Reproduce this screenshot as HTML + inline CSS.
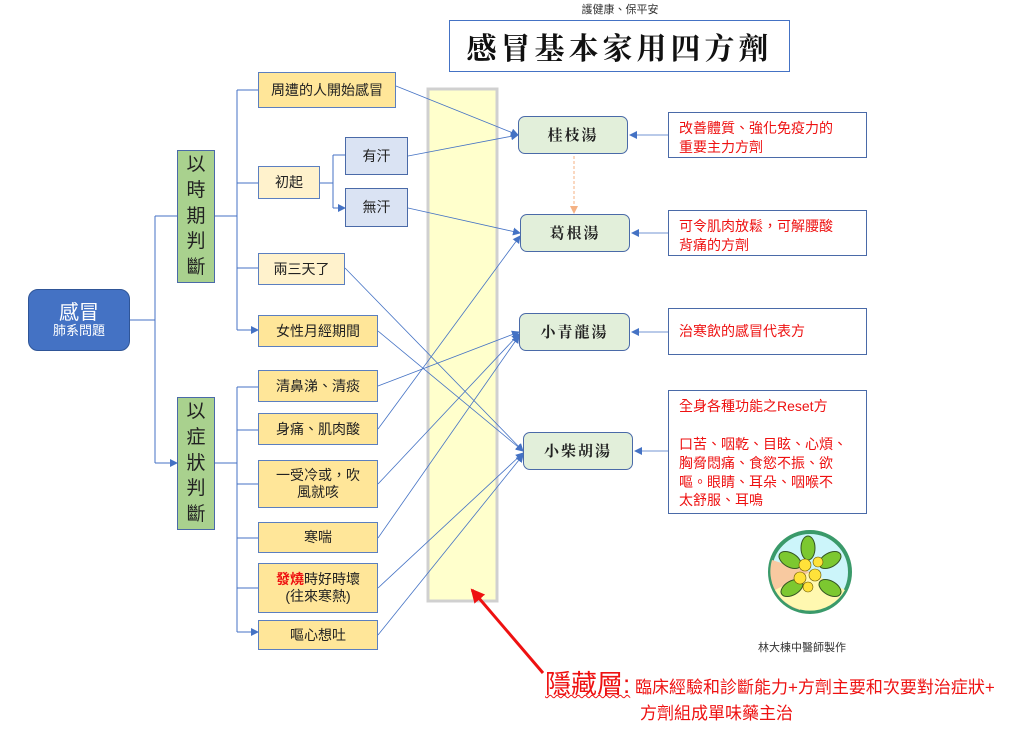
<!DOCTYPE html><html><head><meta charset="utf-8"><style>
body{margin:0;width:1023px;height:733px;background:#fff;position:relative;overflow:hidden;font-family:"Liberation Sans","Noto Sans CJK TC",sans-serif;}
.b{position:absolute;box-sizing:border-box;display:flex;align-items:center;justify-content:center;text-align:center;font-size:14px;color:#222;line-height:1.2}
.y{background:#ffe699;border:1.5px solid #5b7fc0}
.ly{background:#fff2cc;border:1.5px solid #5b7fc0}
.bl{background:#dae3f3;border:1.5px solid #4a6aa8}
.g{background:#a9d18e;border:1.5px solid #4a6aa8;font-size:19px;line-height:1.35;color:#222}
.f{background:#e2efda;border:1.5px solid #4a6aa8;border-radius:7px;font-family:"Noto Serif CJK SC",serif;font-weight:bold;font-size:15px;letter-spacing:2px}
.n{background:#fff;border:1.5px solid #4a6aa8;color:#ee1111;font-size:14px;justify-content:flex-start;align-items:flex-start;text-align:left;padding:6px 10px;line-height:1.35;white-space:nowrap}
</style></head><body>
<svg width="1023" height="733" style="position:absolute;left:0;top:0">
<defs><marker id="a" markerWidth="8" markerHeight="8" refX="7" refY="4" orient="auto" markerUnits="userSpaceOnUse"><path d="M0,0L8,4L0,8z" fill="#4472c4"/></marker>
<marker id="o" markerWidth="8" markerHeight="8" refX="7" refY="4" orient="auto" markerUnits="userSpaceOnUse"><path d="M0,0L8,4L0,8z" fill="#f4b183"/></marker>
<marker id="r" markerWidth="14" markerHeight="14" refX="12" refY="7" orient="auto" markerUnits="userSpaceOnUse"><path d="M0,0L14,7L0,14z" fill="#ee1111"/></marker></defs>
<g stroke="#4472c4" stroke-width="1" fill="none">
<path d="M130,320H155M155,216V463"/><path d="M155,216H177M155,463H177" marker-end="url(#a)"/>
<path d="M215,216H237M237,90V330"/>
<path d="M237,90H258M237,183H258M237,268H258M237,330H258" marker-end="url(#a)"/>
<path d="M320,183H333M333,155V208"/><path d="M333,155H345M333,208H345" marker-end="url(#a)"/>
<path d="M215,463H237M237,387V632"/>
<path d="M237,387H258M237,430H258M237,484H258M237,538H258M237,588H258M237,632H258" marker-end="url(#a)"/>
</g>
<rect x="428" y="89" width="69" height="512" fill="#ffffcc" stroke="#d0d0d0" stroke-width="3"/>
<g stroke="#4472c4" stroke-width="0.8" fill="none" marker-end="url(#a)">
<path d="M396,86L518,135"/><path d="M408,156L518,135"/><path d="M408,208L520,233"/>
<path d="M345,268L523,451"/><path d="M378,331L523,451"/><path d="M378,386L519,332"/>
<path d="M378,429L520,236"/><path d="M378,484L519,334"/><path d="M378,538L519,336"/>
<path d="M378,588L523,453"/><path d="M378,635L523,455"/>
<path d="M668,135H630"/><path d="M668,233H632"/><path d="M668,332H632"/><path d="M668,451H635"/>
</g>
<path d="M574,156V213" stroke="#f4b183" stroke-dasharray="3,2" marker-end="url(#o)"/>
<path d="M543,673L472,590" stroke="#ee1111" stroke-width="3" marker-end="url(#r)"/>
<circle cx="810" cy="572" r="40" fill="#ccf5fa" stroke="#3a9a6a" stroke-width="4"/>
<path d="M772,560A40,40 0 0 0 800,610L810,572z" fill="#f8c9a0"/>
<path d="M775,590A40,40 0 0 0 845,590L810,572z" fill="#fff8b0"/>
<g fill="#7cc830" stroke="#335522" stroke-width="1"><ellipse cx="790" cy="560" rx="12" ry="7" transform="rotate(30 790 560)"/><ellipse cx="830" cy="560" rx="12" ry="7" transform="rotate(-30 830 560)"/><ellipse cx="792" cy="588" rx="12" ry="7" transform="rotate(-30 792 588)"/><ellipse cx="830" cy="588" rx="12" ry="7" transform="rotate(30 830 588)"/><ellipse cx="808" cy="548" rx="7" ry="12"/></g>
<g fill="#ffe23a" stroke="#665500" stroke-width="0.6"><circle cx="805" cy="565" r="6"/><circle cx="815" cy="575" r="6"/><circle cx="800" cy="578" r="6"/><circle cx="818" cy="562" r="5"/><circle cx="808" cy="587" r="5"/></g>
</svg>
<div class="b" style="left:560px;top:4px;width:120px;font-size:11px;color:#333">護健康、保平安</div>
<div class="b" style="left:449px;top:20px;width:341px;height:52px;border:1.5px solid #4472c4;font-family:'Noto Serif CJK SC',serif;font-weight:bold;font-size:30px;letter-spacing:4px;color:#111">感冒基本家用四方劑</div>
<div class="b" style="left:28px;top:289px;width:102px;height:62px;background:#4472c4;border-radius:10px;color:#fff;flex-direction:column;font-size:20px;line-height:1.1;border:1px solid #2f5597">感冒<span style="font-size:13px">肺系問題</span></div>
<div class="b g" style="left:177px;top:150px;width:38px;height:133px">以<br>時<br>期<br>判<br>斷</div>
<div class="b g" style="left:177px;top:397px;width:38px;height:133px">以<br>症<br>狀<br>判<br>斷</div>
<div class="b y" style="left:258px;top:72px;width:138px;height:36px">周遭的人開始感冒</div>
<div class="b ly" style="left:258px;top:166px;width:62px;height:33px">初起</div>
<div class="b bl" style="left:345px;top:137px;width:63px;height:38px">有汗</div>
<div class="b bl" style="left:345px;top:188px;width:63px;height:39px">無汗</div>
<div class="b ly" style="left:258px;top:253px;width:87px;height:32px">兩三天了</div>
<div class="b y" style="left:258px;top:315px;width:120px;height:32px">女性月經期間</div>
<div class="b y" style="left:258px;top:370px;width:120px;height:32px">清鼻涕、清痰</div>
<div class="b y" style="left:258px;top:413px;width:120px;height:32px">身痛、肌肉酸</div>
<div class="b y" style="left:258px;top:460px;width:120px;height:48px">一受冷或，吹<br>風就咳</div>
<div class="b y" style="left:258px;top:522px;width:120px;height:31px">寒喘</div>
<div class="b y" style="left:258px;top:563px;width:120px;height:50px"><span><span style="color:#ee1111;font-weight:bold">發燒</span>時好時壞<br>(往來寒熱)</span></div>
<div class="b y" style="left:258px;top:620px;width:120px;height:30px">嘔心想吐</div>
<div class="b f" style="left:518px;top:116px;width:110px;height:38px">桂枝湯</div>
<div class="b f" style="left:520px;top:214px;width:110px;height:38px">葛根湯</div>
<div class="b f" style="left:519px;top:313px;width:111px;height:38px">小青龍湯</div>
<div class="b f" style="left:523px;top:432px;width:110px;height:38px">小柴胡湯</div>
<div class="b n" style="left:668px;top:112px;width:199px;height:46px">改善體質、強化免疫力的<br>重要主力方劑</div>
<div class="b n" style="left:668px;top:210px;width:199px;height:46px">可令肌肉放鬆，可解腰酸<br>背痛的方劑</div>
<div class="b n" style="left:668px;top:308px;width:199px;height:47px;align-items:center">治寒飲的感冒代表方</div>
<div class="b n" style="left:668px;top:390px;width:199px;height:124px">全身各種功能之Reset方<br><br>口苦、咽乾、目眩、心煩、<br>胸脅悶痛、食慾不振、欲<br>嘔。眼睛、耳朵、咽喉不<br>太舒服、耳鳴</div>
<div class="b" style="left:740px;top:642px;width:124px;font-size:11px;color:#333">林大棟中醫師製作</div>
<div style="position:absolute;left:545px;top:664px;color:#ee1111;white-space:nowrap"><span style="font-size:26px;text-decoration:underline wavy #ee1111;text-decoration-thickness:1px">隱藏層:</span><span style="font-size:17px"> 臨床經驗和診斷能力+方劑主要和次要對治症狀+</span></div>
<div style="position:absolute;left:640px;top:699px;color:#ee1111;font-size:17px">方劑組成單味藥主治</div>
</body></html>
